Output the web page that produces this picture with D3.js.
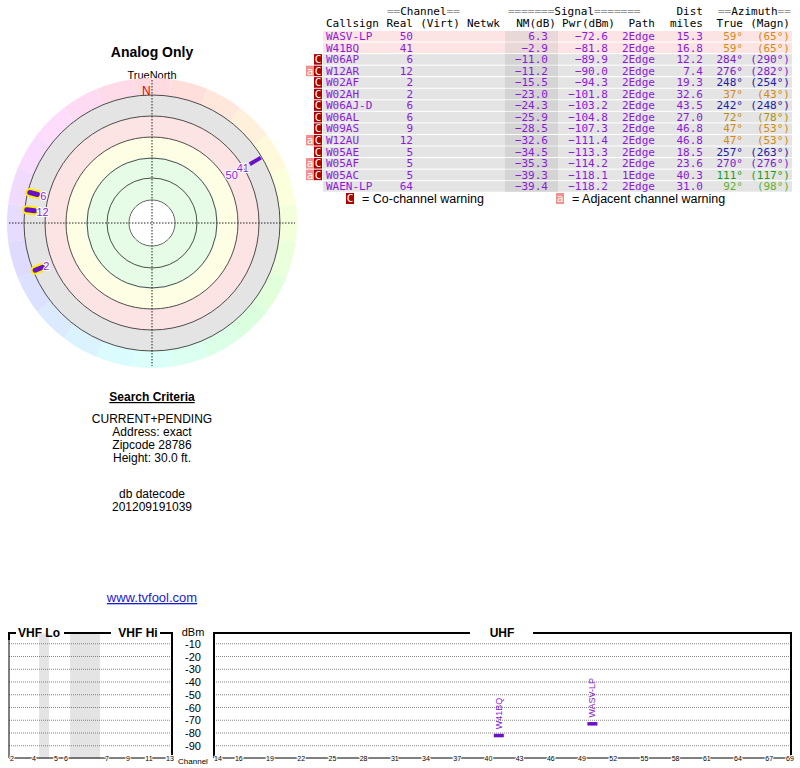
<!DOCTYPE html>
<html><head><meta charset="utf-8">
<script src="https://cdn.jsdelivr.net/npm/d3@7"></script>
<style>body{margin:0;background:#fff}svg{display:block}</style>
</head><body>
<script>
const callsigns=["WASV-LP","W41BQ","W06AP","W12AR","W02AF","W02AH","W06AJ-D","W06AL","W09AS","W12AU","W05AE","W05AF","W05AC","WAEN-LP"];
const realCh=[50,41,6,12,2,2,6,6,9,12,5,5,5,64];
const nmDb=[6.3,-2.9,-11.0,-11.2,-15.5,-23.0,-24.3,-25.9,-28.5,-32.6,-34.5,-35.3,-39.3,-39.4];
const pwrDbm=[-72.6,-81.8,-89.9,-90.0,-94.3,-101.8,-103.2,-104.8,-107.3,-111.4,-113.3,-114.2,-118.1,-118.2];
const paths=["2Edge","2Edge","2Edge","2Edge","2Edge","2Edge","2Edge","2Edge","2Edge","2Edge","2Edge","2Edge","1Edge","2Edge"];
const distMi=[15.3,16.8,12.2,7.4,19.3,32.6,43.5,27.0,46.8,46.8,18.5,23.6,40.3,31.0];
const azTrue=[59,59,284,276,248,37,242,72,47,47,257,270,111,92];
const azMagn=[65,65,290,282,254,43,248,78,53,53,263,276,117,98];
const coWarn=[0,0,1,1,1,1,1,1,1,1,1,1,1,0];
const adjWarn=[0,0,0,1,0,0,0,0,0,1,0,1,1,0];
const azColors=["#d08a1a","#d08a1a","#7a1ccc","#7a1ccc","#2020a8","#d08a1a","#2020a8","#b09010","#d08a1a","#d08a1a","#2020a8","#7a1ccc","#18a018","#60b030"];
const polarShown=[0,1,2,3,4];
const polarLabels=["50","41","6","12","2"];
const dbmTicks=[-10,-20,-30,-40,-50,-60,-70,-80,-90];
const vhfTicks=[2,4,5,6,7,9,11,13];
const uhfTicks=[14,16,19,22,25,28,31,34,37,40,43,46,49,52,55,58,61,64,67,69];

const W=800,H=768;
const svg=d3.select("body").append("svg").attr("width",W).attr("height",H).style("font-family","Helvetica, Arial, 'Liberation Sans', sans-serif");

const L=svg.append("g");
L.append("text").attr("x",152).attr("y",57).attr("text-anchor","middle").attr("font-weight","bold").attr("font-size",14).text("Analog Only");
L.append("text").attr("x",152).attr("y",79).attr("text-anchor","middle").attr("font-size",11).text("TrueNorth");
const t2=[["Search Criteria",401,true],["CURRENT+PENDING",423],["Address: exact",436],["Zipcode 28786",449],["Height: 30.0 ft.",462],["db datecode",498],["201209191039",511]];
t2.forEach(d=>{const t=L.append("text").attr("x",152).attr("y",d[1]).attr("text-anchor","middle").attr("font-size",12).text(d[0]);if(d[2])t.attr("font-weight","bold").attr("text-decoration","underline");});
L.append("text").attr("x",152).attr("y",602).attr("text-anchor","middle").attr("font-size",13).attr("fill","#1a1ad0").attr("text-decoration","underline").text("www.tvfool.com");

const cx=152,cy=223;
const P=svg.append("g").attr("transform",`translate(${cx},${cy})`);
const ang=d3.scaleLinear().domain([0,360]).range([0,2*Math.PI]);
d3.range(0,360,15).forEach(a=>{
  P.append("path").attr("d",d3.arc()({innerRadius:128,outerRadius:145,startAngle:ang(a-7.5),endAngle:ang(a+7.5)}))
   .attr("fill",d3.hsl((a+350)%360,1,0.93).toString()).attr("stroke","none");
});
const bands=[[107,128,"#e4e4e4"],[86,107,"#fde4e4"],[66,86,"#fefee4"],[23,66,"#e6fce6"]];
bands.forEach(b=>P.append("path").attr("d",d3.arc()({innerRadius:b[0],outerRadius:b[1],startAngle:0,endAngle:2*Math.PI})).attr("fill",b[2]));
[128,107,86,65,45,23].forEach(r=>P.append("circle").attr("r",r).attr("fill","none").attr("stroke","#222").attr("stroke-width",0.8));
P.append("circle").attr("r",22.5).attr("fill","#fff");
P.append("line").attr("x1",0).attr("x2",0).attr("y1",-143).attr("y2",143).attr("stroke","#222").attr("stroke-dasharray","1.5,1.5");
P.append("line").attr("y1",0).attr("y2",0).attr("x1",-143).attr("x2",143).attr("stroke","#222").attr("stroke-dasharray","1.5,1.5");
P.append("text").attr("x",-10).attr("y",-128).attr("fill","#e00").attr("font-size",12).text("N");
const pol=(a,r)=>[r*Math.sin(ang(a)),-r*Math.cos(ang(a))];
polarShown.forEach((i,k)=>{
  const a=azTrue[i];
  if(i<2){
    if(i===0){const p1=pol(a,114),p2=pol(a,127);
      P.append("line").attr("x1",p1[0]).attr("y1",p1[1]).attr("x2",p2[0]).attr("y2",p2[1]).attr("stroke","#6a10c8").attr("stroke-width",4);}
  } else {
    const p1=pol(a,118),p2=pol(a,126);
    P.append("line").attr("x1",p1[0]).attr("y1",p1[1]).attr("x2",p2[0]).attr("y2",p2[1]).attr("stroke","#ffee00").attr("stroke-width",9).attr("stroke-linecap","round");
    P.append("line").attr("x1",p1[0]).attr("y1",p1[1]).attr("x2",p2[0]).attr("y2",p2[1]).attr("stroke","#6a10c8").attr("stroke-width",5).attr("stroke-linecap","round");
  }
});
const labPos=[[59,93],[59,106],[284,112],[276,110],[248,114]];
polarShown.forEach((i,k)=>{const p=pol(labPos[k][0],labPos[k][1]);
  P.append("text").attr("x",p[0]).attr("y",p[1]+4).attr("text-anchor","middle").attr("font-size",11).attr("fill","#8a1ad8").attr("stroke","#fff").attr("stroke-width",2).attr("paint-order","stroke").text(polarLabels[k]);});

const T=svg.append("g").style("font-family","'DejaVu Sans Mono', monospace").attr("font-size",11);
const row0=31, rh=11.55;
const rowY=d3.scaleLinear().domain([0,1]).range([row0,row0+rh]);
callsigns.forEach((c,i)=>{
  T.append("rect").attr("x",323).attr("y",rowY(i)).attr("width",469).attr("height",rh-1).attr("fill",i<2?"#fde4e4":"#e4e4e4");
  T.append("rect").attr("x",505).attr("y",rowY(i)).attr("width",53).attr("height",rh-1).attr("fill",i<2?"#e8d8d8":"#d4d4d4");
});
const hdr=(x,y,txt,anchor,fill)=>T.append("text").attr("x",x).attr("y",y).attr("text-anchor",anchor||"start").attr("fill",fill||"#000").attr("xml:space","preserve").text(txt);
const eqT=(x,y,parts,anchor)=>{const t=T.append("text").attr("x",x).attr("y",y).attr("text-anchor",anchor||"start").attr("xml:space","preserve");parts.forEach(p=>t.append("tspan").attr("fill",p[1]).text(p[0]));};
eqT(387,15,[["==","#999"],["Channel","#000"],["==","#999"]]);
eqT(508,15,[["=======","#999"],["Signal","#000"],["=======","#999"]]);
hdr(703,15,"Dist","end");
eqT(718,15,[["==","#999"],["Azimuth","#000"],["==","#999"]]);
hdr(326,27,"Callsign");hdr(413,27,"Real","end");hdr(460,27,"(Virt)","end");hdr(500,27,"Netwk","end");
hdr(556,27,"NM(dB)","end");hdr(615,27,"Pwr(dBm)","end");hdr(655,27,"Path","end");hdr(703,27,"miles","end");hdr(743,27,"True","end");hdr(790,27,"(Magn)","end");
const pc="#8a1ad8";
callsigns.forEach((c,i)=>{
  const y=rowY(i)+9;
  hdr(326,y,c,"start",pc);
  hdr(413,y,String(realCh[i]),"end",pc);
  hdr(548,y,nmDb[i].toFixed(1).replace("-","\u2212"),"end",pc);
  hdr(608,y,pwrDbm[i].toFixed(1).replace("-","\u2212"),"end",pc);
  hdr(655,y,paths[i],"end",pc);
  hdr(703,y,distMi[i].toFixed(1),"end",pc);
  hdr(743,y,azTrue[i]+"°","end",azColors[i]);
  hdr(790,y,"("+azMagn[i]+"°)","end",azColors[i]);
  if(coWarn[i]){T.append("rect").attr("x",314).attr("y",rowY(i)).attr("width",8).attr("height",rh-1).attr("fill","#b00000");
    hdr(318,y,"C","middle","#fff");}
  if(adjWarn[i]){T.append("rect").attr("x",306).attr("y",rowY(i)).attr("width",8).attr("height",rh-1).attr("fill","#f09090");
    hdr(310,y,"a","middle","#fff");}
});
T.append("rect").attr("x",346).attr("y",193).attr("width",8).attr("height",11).attr("fill","#b00000");
hdr(350,202,"C","middle","#fff");
T.append("rect").attr("x",556).attr("y",193).attr("width",8).attr("height",11).attr("fill","#f09090");
hdr(560,202,"a","middle","#fff");
svg.append("text").attr("x",362).attr("y",203).attr("font-size",12.5).text("= Co-channel warning");
svg.append("text").attr("x",572).attr("y",203).attr("font-size",12.5).text("= Adjacent channel warning");

const S=svg.append("g");
const y=d3.scaleLinear().domain([0,-100]).range([631,758.5]);
const xv=d3.scaleLinear().domain([2,4,5,6,7,13]).range([12,34,56,66,107,170]);
const xu=d3.scaleLinear().domain([14,69]).range([218,790]);
S.append("rect").attr("x",xv(4.23)).attr("y",y(-2)).attr("width",xv(4.68)-xv(4.23)).attr("height",y(-100)-y(-2)).attr("fill","#e4e4e4");
S.append("rect").attr("x",xv(6.1)).attr("y",y(-2)).attr("width",xv(6.83)-xv(6.1)).attr("height",y(-100)-y(-2)).attr("fill","#e4e4e4");
dbmTicks.forEach(v=>{
  S.append("line").attr("x1",9).attr("x2",172).attr("y1",y(v)).attr("y2",y(v)).attr("stroke","#666").attr("stroke-dasharray","1,1").attr("stroke-width",0.8);
  S.append("line").attr("x1",214).attr("x2",791).attr("y1",y(v)).attr("y2",y(v)).attr("stroke","#666").attr("stroke-dasharray","1,1").attr("stroke-width",0.8);
  S.append("text").attr("x",193).attr("y",y(v)+4).attr("text-anchor","middle").attr("font-size",11).text(v);
});
S.append("text").attr("x",193).attr("y",636).attr("text-anchor","middle").attr("font-size",11).text("dBm");
S.append("text").attr("x",193).attr("y",764).attr("text-anchor","middle").attr("font-size",8).text("Channel");
const path=(d)=>S.append("path").attr("d",d).attr("fill","none").attr("stroke","#000").attr("stroke-width",2);
path(`M9,640V633H16 M64,633H111 M160,633H172V758`);
path(`M214,758V633H470 M533,633H791V758`);
S.append("line").attr("x1",9).attr("x2",9).attr("y1",633).attr("y2",758).attr("stroke","#000").attr("stroke-width",1);
S.append("text").attr("x",39).attr("y",637).attr("text-anchor","middle").attr("font-weight","bold").attr("font-size",12).text("VHF Lo");
S.append("text").attr("x",138).attr("y",637).attr("text-anchor","middle").attr("font-weight","bold").attr("font-size",12).text("VHF Hi");
S.append("text").attr("x",502).attr("y",637).attr("text-anchor","middle").attr("font-weight","bold").attr("font-size",12).text("UHF");
S.append("line").attr("x1",9).attr("x2",172).attr("y1",758).attr("y2",758).attr("stroke","#000");
S.append("line").attr("x1",214).attr("x2",791).attr("y1",758).attr("y2",758).attr("stroke","#000");
vhfTicks.forEach(c=>S.append("text").attr("x",xv(c)).attr("y",761).attr("text-anchor","middle").attr("font-size",7).attr("stroke","#fff").attr("stroke-width",2).attr("paint-order","stroke").text(c));
uhfTicks.forEach(c=>S.append("text").attr("x",xu(c)).attr("y",761).attr("text-anchor","middle").attr("font-size",7).attr("stroke","#fff").attr("stroke-width",2).attr("paint-order","stroke").text(c));
[0,1].forEach(i=>{
  const x=xu(realCh[i]);
  S.append("rect").attr("x",x-5).attr("y",y(pwrDbm[i])-1.5).attr("width",10).attr("height",3.5).attr("fill","#6a10c8");
  S.append("text").attr("transform",`translate(${x+3},${y(pwrDbm[i])-6}) rotate(-90)`).attr("font-size",9).attr("fill","#8a1ad8").text(callsigns[i]);
});
</script>
</body></html>
